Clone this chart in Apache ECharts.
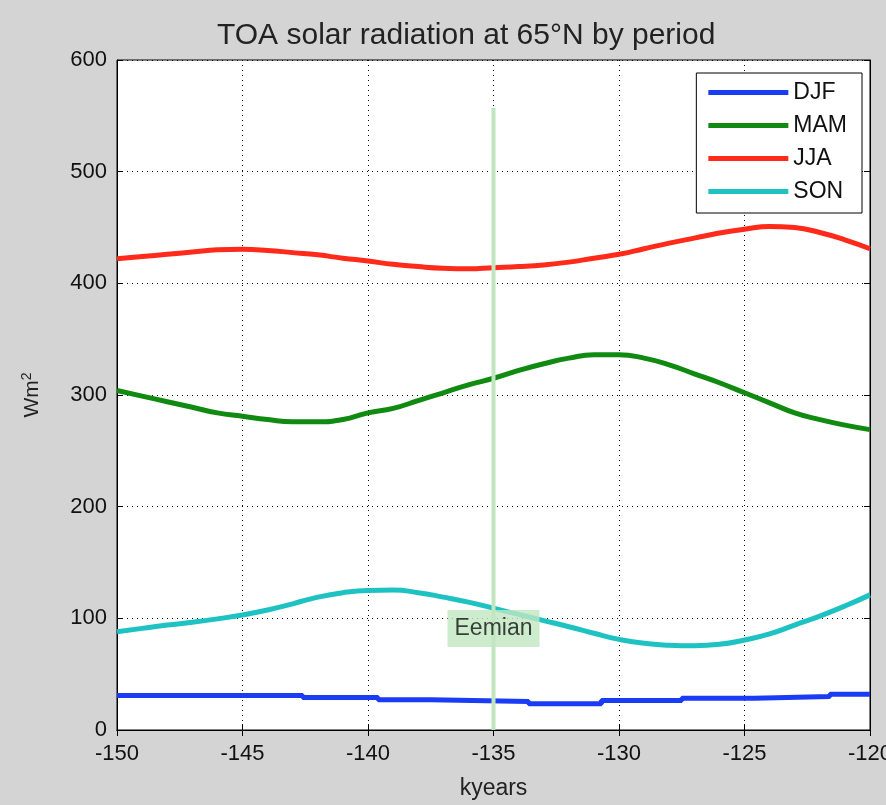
<!DOCTYPE html>
<html>
<head>
<meta charset="utf-8">
<script src="https://cdn.jsdelivr.net/npm/echarts@6/dist/echarts.min.js"></script>
<style>
html,body{margin:0;padding:0;background:#d4d4d4;}
#chart{width:886px;height:805px;}
</style>
</head>
<body>
<div id="chart"></div>
<script>
// kyears
const years = [-150,-149,-148,-147,-146,-145,-144,-143,-142,-141,-140,-139,-138,-137,-136,-135,-134,-133,-132,-131,-130,-129,-128,-127,-126,-125,-124,-123,-122,-121,-120];
const jja = [422,424,426,428,430,430.5,429.5,427.5,425.5,422.5,420,417,415,413.5,413,414,415,416.5,419,422.5,426,431,436,440.5,445,448.5,451,450,445.5,439,431];
const mam = [304,299,294,289,284,281,278,276,276,278,284,288,295,302,309,315,322,328,333,336,336,333,327,319,311,302,293,284,278,273,269];
const son = [88,91,94,96.5,99.5,103,107.5,113,119,123,125,125.3,123,119,114.5,109,103.5,98,92.5,86.6,81.2,77.6,76,75.5,76.7,80.6,86,94,102,111,121];
// DJF is stepped: value holds from x until next x
const djfX = [-150,-142.6,-139.6,-137.5,-133.6,-130.7,-127.5,-124.6,-121.6,-120];
const djfY = [31,29,27,25.5,23.5,26.5,28.5,30,32,32];
const seriesNames = ['DJF','MAM','JJA','SON'];
const seriesColors = ['#1a3cf5','#108a10','#ff2a1a','#1fc2c2'];
const eemianX = -135;
const eemianTop = 557;
const eemianLabelY = 91;

const pairs = (xs, ys) => xs.map((x,i)=>[x, ys[i]]);

const chart = echarts.init(document.getElementById('chart'));
const lineW = 5;
const FONT = 'Liberation Sans, Arial, sans-serif';
const axisLabelStyle = {color:'#111', fontSize:22, fontFamily:FONT};
chart.setOption({
  backgroundColor:'#d4d4d4',
  animation:false,
  title:{
    text:'TOA solar radiation at 65°N by period',
    left:212, top:16,
    textStyle:{fontSize:30, fontWeight:'normal', color:'#222', fontFamily:FONT}
  },
  grid:{left:117, right:16, top:60, bottom:75, show:true, backgroundColor:'#ffffff', borderColor:'#000', borderWidth:1,
    containLabel:false, outerBoundsMode:'none'},
  legend:{
    orient:'vertical', right:24, top:73,
    backgroundColor:'#ffffff', borderColor:'#000', borderWidth:1,
    padding:[8,15,10,12], itemGap:10, itemWidth:80, itemHeight:5, icon:'rect',
    textStyle:{fontSize:23, color:'#111', fontFamily:FONT},
    data:seriesNames
  },
  xAxis:[{
    type:'value', min:-150, max:-120, interval:5,
    name:'kyears', nameLocation:'middle', nameGap:47,
    nameTextStyle:{fontSize:23, color:'#222', fontFamily:FONT},
    axisLine:{lineStyle:{color:'#000'}},
    axisTick:{inside:true, length:6, lineStyle:{color:'#000'}},
    axisLabel:Object.assign({margin:13}, axisLabelStyle),
    splitLine:{show:true, lineStyle:{color:'#000', type:[1,4], width:1}}
  },{
    type:'value', min:-150, max:-120, interval:5, position:'top',
    axisLine:{show:true, lineStyle:{color:'#000'}},
    axisTick:{show:true, inside:true, length:6, lineStyle:{color:'#000'}},
    axisLabel:{show:false}, splitLine:{show:false}
  }],
  yAxis:[{
    type:'value', min:0, max:600, interval:100,
    name:'Wm{sup|2}', nameLocation:'middle', nameGap:73, nameRotate:90,
    nameTextStyle:{fontSize:21, color:'#222', fontFamily:FONT,
      rich:{sup:{fontSize:14, verticalAlign:'top', padding:[0,0,10,0], color:'#222'}}},
    axisLine:{show:true, lineStyle:{color:'#000'}},
    axisTick:{show:true, inside:true, length:6, lineStyle:{color:'#000'}},
    axisLabel:Object.assign({margin:10}, axisLabelStyle),
    splitLine:{show:true, lineStyle:{color:'#000', type:[1,4], width:1}}
  },{
    type:'value', min:0, max:600, interval:100, position:'right',
    axisLine:{show:true, lineStyle:{color:'#000'}},
    axisTick:{show:true, inside:true, length:6, lineStyle:{color:'#000'}},
    axisLabel:{show:false}, splitLine:{show:false}
  }],
  series:[
    {name:'DJF', type:'line', step:'end', data:pairs(djfX, djfY), showSymbol:false, color:seriesColors[0], lineStyle:{width:lineW}, z:3},
    {name:'MAM', type:'line', data:pairs(years, mam), smooth:true, showSymbol:false, color:seriesColors[1], lineStyle:{width:lineW}, z:3},
    {name:'JJA', type:'line', data:pairs(years, jja), smooth:true, showSymbol:false, color:seriesColors[2], lineStyle:{width:lineW}, z:3},
    {name:'SON', type:'line', data:pairs(years, son), smooth:true, showSymbol:false, color:seriesColors[3], lineStyle:{width:lineW}, z:3},
    {name:'Eemian line', type:'line', data:[[eemianX,0],[eemianX,eemianTop]], showSymbol:false, color:'#c0e6c0', lineStyle:{width:4}, z:4, silent:true},
    {name:'Eemian label', type:'scatter', data:[[eemianX,eemianLabelY]], symbolSize:1, itemStyle:{color:'rgba(0,0,0,0)'}, z:5,
      label:{show:true, position:'inside', formatter:'Eemian', backgroundColor:'#c0e6c0', padding:[7,7,7,7],
        fontSize:23, color:'#111', fontFamily:FONT}}
  ]
});
</script>
</body>
</html>
